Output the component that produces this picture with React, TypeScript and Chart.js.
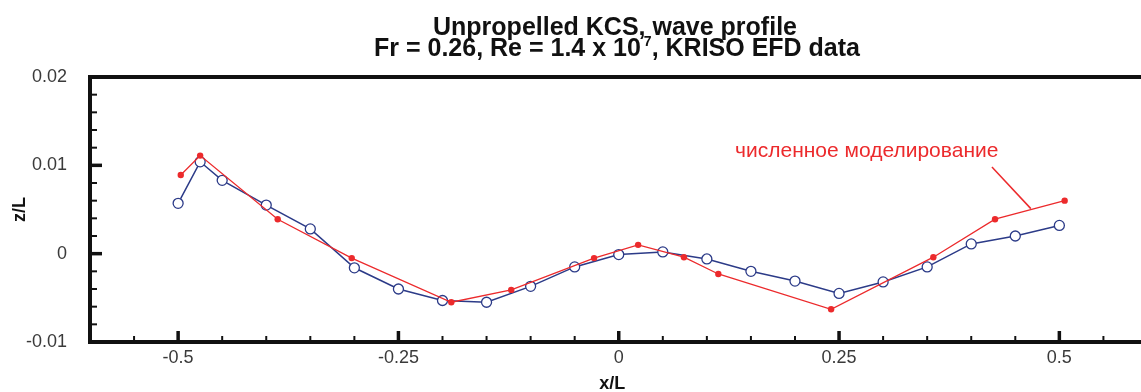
import React, { useEffect, useRef } from 'react';
import { Chart, registerables } from 'chart.js';

Chart.register(...registerables);

// ---- data ----
const efdX = [-0.5, -0.475, -0.45, -0.4, -0.35, -0.3, -0.25, -0.2, -0.15, -0.1, -0.05, 0, 0.05, 0.1, 0.15, 0.2, 0.25, 0.3, 0.35, 0.4, 0.45, 0.5];
const efdY = [0.0057, 0.0104, 0.0083, 0.0055, 0.0028, -0.0016, -0.004, -0.0053, -0.0055, -0.0037, -0.0015, -0.0001, 0.0002, -0.0006, -0.002, -0.0031, -0.0045, -0.0032, -0.0015, 0.0011, 0.002, 0.0032];

const cfdX = [-0.497, -0.475, -0.387, -0.303, -0.19, -0.122, -0.028, 0.022, 0.074, 0.113, 0.241, 0.357, 0.427, 0.506];
const cfdY = [0.0089, 0.0111, 0.0039, -0.0005, -0.0055, -0.0041, -0.0005, 0.001, -0.0004, -0.0023, -0.0063, -0.0004, 0.0039, 0.006];

const xTickValues = [-0.55, -0.5, -0.45, -0.4, -0.35, -0.3, -0.25, -0.2, -0.15, -0.1, -0.05, 0, 0.05, 0.1, 0.15, 0.2, 0.25, 0.3, 0.35, 0.4, 0.45, 0.5, 0.55];
const xMajorValues = [-0.5, -0.25, 0, 0.25, 0.5];
const xMajorLabels = ['-0.5', '-0.25', '0', '0.25', '0.5'];

const yTickValues = [-0.01, -0.008, -0.006, -0.004, -0.002, 0, 0.002, 0.004, 0.006, 0.008, 0.01, 0.012, 0.014, 0.016, 0.018, 0.02];
const yMajorValues = [-0.01, 0, 0.01, 0.02];
const yMajorLabels = ['-0.01', '0', '0.01', '0.02'];

const titleLine1 = 'Unpropelled KCS, wave profile';
const titleLine2a = 'Fr = 0.26, Re = 1.4 x 10';
const titleLine2sup = '7';
const titleLine2b = ', KRISO EFD data';

const annotationText = 'численное моделирование';
const annotationAt = [0.132, 0.011];
const leaderFrom = [0.4235, 0.0098];
const leaderTo = [0.4676, 0.0051];

const FONT = "'Liberation Sans', Arial, sans-serif";
const RED = '#ec2a2c';
const BLUE = '#2c3b88';
const TICK_TEXT = '#3a3a3a';

function labelFor(v: number, majors: number[], labels: string[]) {
  for (let i = 0; i < majors.length; i++) {
    if (Math.abs(majors[i] - v) < 1e-9) return labels[i];
  }
  return '';
}
function isMajor(v: number, majors: number[]) {
  return majors.some((m) => Math.abs(m - v) < 1e-9);
}

export default function App() {
  const ref = useRef<HTMLCanvasElement>(null);

  useEffect(() => {
    document.body.style.margin = '0';
    document.body.style.overflow = 'hidden';
    const canvas = ref.current!;

    const overlay = {
      id: 'overlay',
      afterDraw(chart: any) {
        const { ctx, chartArea } = chart;
        const xs = chart.scales.x;
        const ys = chart.scales.y;
        ctx.save();
        ctx.strokeStyle = '#111';
        ctx.lineCap = 'butt';

        // ticks (inward)
        for (const v of xTickValues) {
          const px = xs.getPixelForValue(v);
          const major = isMajor(v, xMajorValues);
          ctx.lineWidth = major ? 3.5 : 2;
          ctx.beginPath();
          ctx.moveTo(px, chartArea.bottom);
          ctx.lineTo(px, chartArea.bottom - (major ? 11 : 6));
          ctx.stroke();
        }
        for (const v of yTickValues) {
          if (v <= ys.min + 1e-9 || v >= ys.max - 1e-9) continue;
          const py = ys.getPixelForValue(v);
          const major = isMajor(v, yMajorValues);
          ctx.lineWidth = major ? 3.5 : 2;
          ctx.beginPath();
          ctx.moveTo(chartArea.left, py);
          ctx.lineTo(chartArea.left + (major ? 12 : 7), py);
          ctx.stroke();
        }

        // frame (left, top, bottom)
        ctx.lineWidth = 4;
        ctx.beginPath();
        ctx.moveTo(chart.width, chartArea.top);
        ctx.lineTo(chartArea.left, chartArea.top);
        ctx.lineTo(chartArea.left, chartArea.bottom);
        ctx.lineTo(chart.width, chartArea.bottom);
        ctx.stroke();

        // annotation
        ctx.fillStyle = RED;
        ctx.font = `21px ${FONT}`;
        ctx.textAlign = 'left';
        ctx.textBaseline = 'alphabetic';
        ctx.fillText(annotationText, xs.getPixelForValue(annotationAt[0]), ys.getPixelForValue(annotationAt[1]));
        ctx.strokeStyle = RED;
        ctx.lineWidth = 1.5;
        ctx.beginPath();
        ctx.moveTo(xs.getPixelForValue(leaderFrom[0]), ys.getPixelForValue(leaderFrom[1]));
        ctx.lineTo(xs.getPixelForValue(leaderTo[0]), ys.getPixelForValue(leaderTo[1]));
        ctx.stroke();

        // title
        const cx = 617;
        ctx.fillStyle = '#111';
        ctx.textBaseline = 'alphabetic';
        const big = `bold 25px ${FONT}`;
        const small = `bold 14px ${FONT}`;
        ctx.font = big;
        ctx.textAlign = 'center';
        ctx.fillText(titleLine1, cx - 2, 35);
        ctx.textAlign = 'left';
        const w1 = ctx.measureText(titleLine2a).width;
        const w3 = ctx.measureText(titleLine2b).width;
        ctx.font = small;
        const ws = ctx.measureText(titleLine2sup).width + 3;
        const start = cx - (w1 + ws + w3) / 2;
        ctx.font = big;
        ctx.fillText(titleLine2a, start, 56);
        ctx.font = small;
        ctx.fillText(titleLine2sup, start + w1 + 3, 46);
        ctx.font = big;
        ctx.fillText(titleLine2b, start + w1 + ws, 56);
        ctx.restore();
      },
    };

    const chart = new Chart(canvas, {
      type: 'scatter',
      data: {
        datasets: [
          {
            label: 'численное моделирование',
            data: cfdX.map((x, i) => ({ x, y: cfdY[i] })),
            showLine: true,
            borderColor: RED,
            backgroundColor: RED,
            borderWidth: 1.3,
            pointRadius: 3.2,
            pointStyle: 'circle',
            pointBorderWidth: 0,
            order: 0,
          },
          {
            label: 'KRISO EFD',
            data: efdX.map((x, i) => ({ x, y: efdY[i] })),
            showLine: true,
            borderColor: BLUE,
            backgroundColor: '#ffffff',
            borderWidth: 1.5,
            pointRadius: 5,
            pointStyle: 'circle',
            pointBorderColor: BLUE,
            pointBackgroundColor: '#ffffff',
            pointBorderWidth: 1.3,
            order: 1,
          },
        ],
      },
      options: {
        animation: false,
        responsive: false,
        devicePixelRatio: 1,
        layout: { padding: { top: 77, right: 0, left: 0, bottom: 0 } },
        plugins: {
          legend: { display: false },
          tooltip: { enabled: false },
          title: { display: false },
        },
        scales: {
          x: {
            type: 'linear',
            min: -0.6,
            max: 0.5855,
            grid: { display: false, drawTicks: true, tickLength: 5 },
            border: { display: false },
            afterBuildTicks: (s: any) => {
              s.ticks = xTickValues.map((v) => ({ value: v }));
            },
            afterFit: (s: any) => {
              s.height = 50;
            },
            ticks: {
              autoSkip: false,
              maxRotation: 0,
              padding: 0,
              color: TICK_TEXT,
              font: { family: FONT, size: 18 },
              callback: (v: any) => labelFor(Number(v), xMajorValues, xMajorLabels),
            },
            title: {
              display: true,
              text: 'x/L',
              color: '#111',
              font: { family: FONT, size: 18, weight: 'bold', lineHeight: 1 },
              padding: { top: 0, bottom: -1 },
            },
          },
          y: {
            type: 'linear',
            min: -0.01,
            max: 0.02,
            grid: { display: false, drawTicks: false },
            border: { display: false },
            afterBuildTicks: (s: any) => {
              s.ticks = yTickValues.map((v) => ({ value: v }));
            },
            afterFit: (s: any) => {
              s.width = 90;
            },
            ticks: {
              autoSkip: false,
              padding: 23,
              color: TICK_TEXT,
              font: { family: FONT, size: 18 },
              callback: (v: any) => labelFor(Number(v), yMajorValues, yMajorLabels),
            },
            title: {
              display: true,
              text: 'z/L',
              color: '#111',
              font: { family: FONT, size: 18, weight: 'bold', lineHeight: 1 },
              padding: { top: 11, bottom: 0 },
            },
          },
        },
      } as any,
      plugins: [overlay],
    });

    return () => chart.destroy();
  }, []);

  return (
    <div style={{ width: 1141, height: 392 }}>
      <canvas ref={ref} width={1141} height={392} />
    </div>
  );
}
